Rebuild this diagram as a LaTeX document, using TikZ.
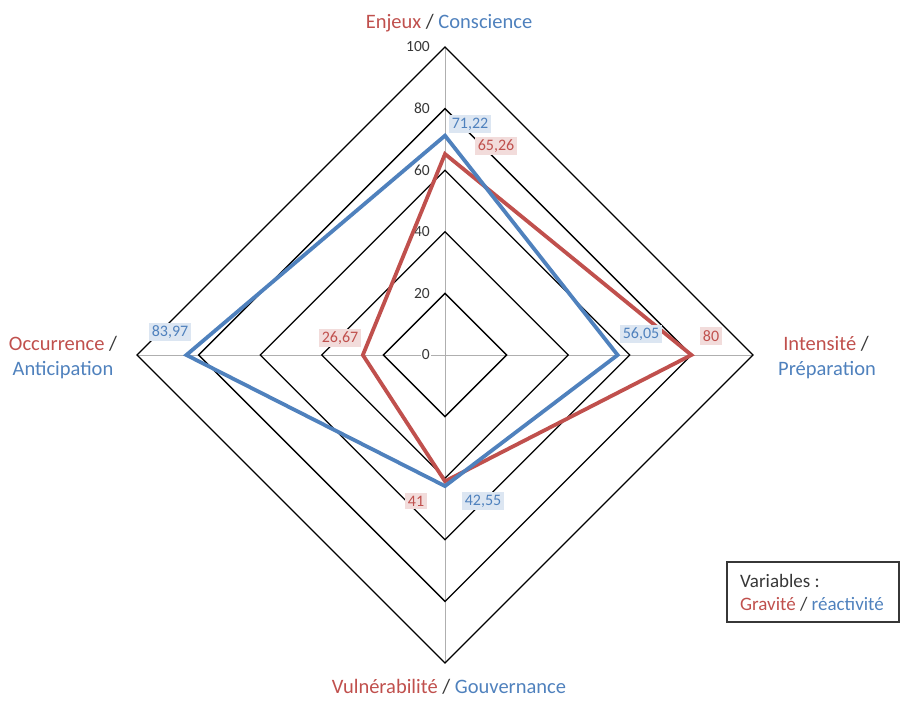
\documentclass[tikz,border=0pt]{standalone}
\usepackage{fontspec}
\setmainfont{Carlito}
\definecolor{gred}{RGB}{192,80,77}
\definecolor{rblue}{RGB}{79,129,189}
\definecolor{lred}{RGB}{242,220,219}
\definecolor{lblue}{RGB}{220,230,242}
\definecolor{dk}{RGB}{55,55,55}
\definecolor{axgray}{RGB}{175,175,175}
\begin{document}
\begin{tikzpicture}[x=1pt,y=-1pt,
  ring/.style={draw=black,line width=1.3pt,line join=miter},
  axisline/.style={draw=axgray,line width=0.9pt},
  ticklab/.style={anchor=east,fill=white,inner sep=1pt,text=dk,font=\fontsize{15.5}{17}\selectfont},
  series/.style={line width=3.8pt,line join=miter},
  redlab/.style={fill=lred,text=gred,inner sep=3pt,font=\fontsize{16}{18}\selectfont},
  bluelab/.style={fill=lblue,text=rblue,inner sep=3pt,font=\fontsize{16}{18}\selectfont},
  axlab/.style={anchor=base,inner sep=0pt,font=\fontsize{20.5}{23}\selectfont},
  leglab/.style={anchor=base west,inner sep=0pt,font=\fontsize{19}{21}\selectfont}]
\useasboundingbox (0,0) rectangle (901,702);
\def\cx{445}\def\cy{355}\def\k{3.08}
% axes
\coordinate (T) at (\cx,{\cy-100*\k});
\coordinate (B) at (\cx,{\cy+100*\k});
\coordinate (L) at ({\cx-100*\k},\cy);
\coordinate (R) at ({\cx+100*\k},\cy);
\draw[axisline] (T) -- (B);
\draw[axisline] (L) -- (R);
% rings
\foreach \v in {20,40,60,80,100}{
  \draw[ring] (\cx,{\cy-\v*\k}) -- ({\cx+\v*\k},\cy) -- (\cx,{\cy+\v*\k}) -- ({\cx-\v*\k},\cy) -- cycle;
}
% tick labels
\foreach \v in {0,20,40,60,80,100}{
  \node[ticklab] (t\v) at (431,{\cy-\v*\k}) {\v};
}
% data
\coordinate (rT) at (\cx,{\cy-65.26*\k});
\coordinate (rR) at ({\cx+80*\k},\cy);
\coordinate (rB) at (\cx,{\cy+41*\k});
\coordinate (rL) at ({\cx-26.67*\k},\cy);
\coordinate (bT) at (\cx,{\cy-71.22*\k});
\coordinate (bR) at ({\cx+56.05*\k},\cy);
\coordinate (bB) at (\cx,{\cy+42.55*\k});
\coordinate (bL) at ({\cx-83.97*\k},\cy);
\draw[series,gred] (rT) -- (rR) -- (rB) -- (rL) -- cycle;
\draw[series,rblue] (bT) -- (bR) -- (bB) -- (bL) -- cycle;
% data labels
\node[bluelab] (l1) at (470,124) {71,22};
\node[redlab]  (l2) at (496,146) {65,26};
\node[bluelab] (l3) at (170,332) {83,97};
\node[redlab]  (l4) at (340,338) {26,67};
\node[bluelab] (l5) at (641,334) {56,05};
\node[redlab]  (l6) at (711,336) {80};
\node[redlab]  (l7) at (416,501) {41};
\node[bluelab] (l8) at (483,501) {42,55};
% axis labels
\node[axlab] (aT) at (449,28) {\textcolor{gred}{Enjeux} \textcolor{dk}{/} \textcolor{rblue}{Conscience}};
\node[axlab] (aL1) at (63,350) {\textcolor{gred}{Occurrence} \textcolor{dk}{/}};
\node[axlab] (aL2) at (63,375) {\textcolor{rblue}{Anticipation}};
\node[axlab] (aR1) at (826,350) {\textcolor{gred}{Intensité} \textcolor{dk}{/}};
\node[axlab] (aR2) at (827,375) {\textcolor{rblue}{Préparation}};
\node[axlab] (aB) at (449,693) {\textcolor{gred}{Vulnérabilité} \textcolor{dk}{/} \textcolor{rblue}{Gouvernance}};
% legend
\draw[draw=dk,line width=1.5pt] (727,562) rectangle (899,622);
\node[leglab,text=dk] (g1) at (740,587) {Variables :};
\node[leglab] (g2) at (740,610) {\textcolor{gred}{Gravité} \textcolor{dk}{/} \textcolor{rblue}{réactivité}};
\end{tikzpicture}
\end{document}
